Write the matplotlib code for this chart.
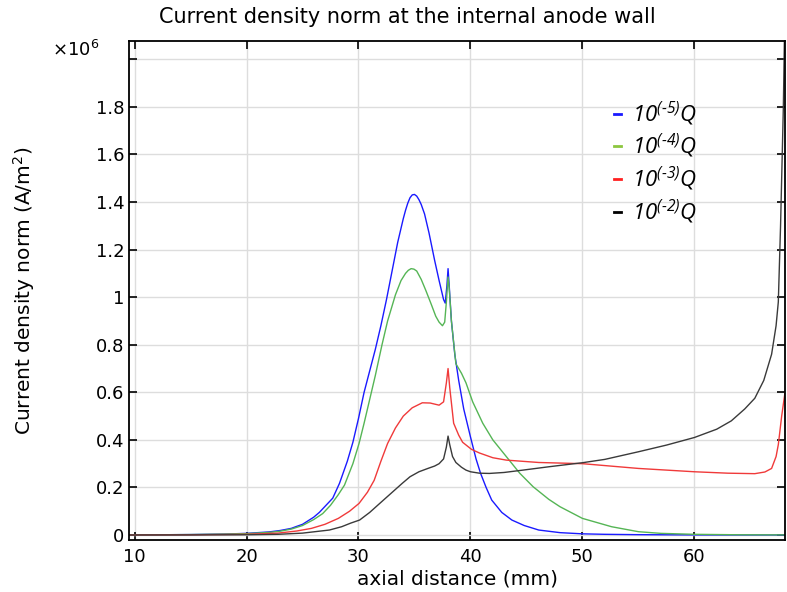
import matplotlib
matplotlib.use("Agg")
import matplotlib.pyplot as plt

# axial distance (mm) and current density norm (x1e6 A/m^2)
x_q5 = [9.5, 12, 15, 18, 20, 22, 23, 24, 24.4, 25, 26, 26.5, 27, 27.7, 28.3, 29.0, 29.5,
        30.0, 30.5, 31.0, 31.5, 32.0, 32.5, 33.0, 33.5, 34.0, 34.2, 34.4, 34.6, 34.8, 35.0,
        35.2, 35.4, 35.6, 35.9, 36.3, 36.8, 37.2, 37.6, 37.75, 37.9, 38.0, 38.1, 38.3, 38.6,
        38.95, 39.4, 40.0, 40.5, 40.9, 41.4, 41.9, 42.8, 43.7, 44.8, 46.1, 48, 50, 52, 55,
        60, 68.2]
y_q5 = [0.0005, 0.001, 0.002, 0.004, 0.007, 0.013, 0.019, 0.028, 0.035, 0.045, 0.075, 0.095,
        0.12, 0.155, 0.217, 0.31, 0.39, 0.49, 0.60, 0.69, 0.78, 0.88, 0.99, 1.11, 1.23, 1.33,
        1.365, 1.395, 1.418, 1.43, 1.432, 1.425, 1.41, 1.39, 1.35, 1.27, 1.155, 1.07, 0.99,
        0.975, 1.05, 1.12, 1.05, 0.90, 0.76, 0.65, 0.53, 0.413, 0.32, 0.26, 0.20, 0.147,
        0.095, 0.063, 0.04, 0.021, 0.01, 0.005, 0.003, 0.0015, 0.0005, 0.0002]

x_q4 = [9.5, 12, 15, 18, 20, 22, 23, 24, 25.0, 26.0, 26.8, 27.5, 28.2, 28.75, 29.5, 30.05,
        30.5, 31.0, 31.5, 32.1, 32.6, 33.3, 33.8, 34.2, 34.45, 34.7, 34.95, 35.2, 35.6, 36.0,
        36.5, 36.9, 37.2, 37.5, 37.7, 37.85, 38.0, 38.1, 38.3, 38.7, 39.2, 39.6, 40.2, 40.8,
        41.1, 42.0, 43.2, 44.4, 45.6, 47.0, 48.0, 50, 52.6, 55, 57, 60, 64, 68.2]
y_q4 = [0.0005, 0.001, 0.002, 0.004, 0.006, 0.011, 0.016, 0.025, 0.04, 0.065, 0.09, 0.125,
        0.17, 0.21, 0.30, 0.385, 0.47, 0.57, 0.67, 0.80, 0.90, 1.01, 1.07, 1.10, 1.113,
        1.12, 1.118, 1.11, 1.075, 1.03, 0.97, 0.92, 0.895, 0.88, 0.895, 0.98, 1.085, 1.04,
        0.90, 0.72, 0.68, 0.64, 0.56, 0.50, 0.47, 0.40, 0.33, 0.26, 0.203, 0.15, 0.119,
        0.07, 0.035, 0.014, 0.007, 0.003, 0.001, 0.0005]

x_q3 = [9.5, 15, 20, 22.8, 24.5, 25.8, 27.0, 28.2, 29.2, 30.05, 30.8, 31.4, 32.0, 32.6, 33.3,
        34.0, 34.8, 35.7, 36.4, 37.2, 37.6, 37.85, 38.0, 38.15, 38.5, 38.95, 39.3, 40.1, 40.8,
        42.0, 43.2, 46.1, 50, 55, 60, 63, 65.4, 66.3, 66.9, 67.3, 67.5, 67.8, 68.1]
y_q3 = [0.0003, 0.001, 0.003, 0.008, 0.017, 0.028, 0.045, 0.07, 0.10, 0.133, 0.18, 0.23,
        0.31, 0.385, 0.45, 0.50, 0.535, 0.556, 0.555, 0.546, 0.56, 0.64, 0.70, 0.62, 0.47,
        0.42, 0.39, 0.36, 0.345, 0.325, 0.315, 0.305, 0.30, 0.28, 0.266, 0.26, 0.258, 0.265,
        0.28, 0.33, 0.38, 0.50, 0.60]

x_q2 = [9.5, 15, 20, 22.8, 25, 27.4, 28.5, 29.3, 30.1, 31.0, 31.9, 32.9, 33.9, 34.6, 35.4,
        36.2, 36.8, 37.2, 37.6, 37.85, 38.0, 38.15, 38.4, 38.7, 39.2, 39.6, 40.0, 40.8, 41.7,
        43.0, 44.7, 47, 50, 52, 55, 57.5, 60, 62, 63.3, 64.5, 65.4, 66.2, 66.9, 67.3, 67.5,
        67.7, 67.85, 67.95, 68.05]
y_q2 = [0.0002, 0.0005, 0.001, 0.003, 0.008, 0.021, 0.035, 0.05, 0.063, 0.095, 0.133, 0.175,
        0.217, 0.245, 0.266, 0.28, 0.29, 0.30, 0.32, 0.37, 0.416, 0.38, 0.33, 0.305, 0.285,
        0.273, 0.266, 0.26, 0.259, 0.263, 0.273, 0.287, 0.304, 0.318, 0.35, 0.378, 0.41,
        0.445, 0.48, 0.53, 0.575, 0.65, 0.76, 0.88, 0.98, 1.30, 1.6, 1.8, 2.1]

labels = [r'$10^{(\text{-}5)}Q$', r'$10^{(\text{-}4)}Q$', r'$10^{(\text{-}3)}Q$', r'$10^{(\text{-}2)}Q$']
line_colors = ['#1a1aff', '#55b555', '#f03a3a', '#3a3a3a']
key_colors = ['#1a1aff', '#8cc63f', '#ff2020', '#000000']

yticks = [0, 0.2, 0.4, 0.6, 0.8, 1.0, 1.2, 1.4, 1.6, 1.8, 2.0]
ytick_labels = ['0', '0.2', '0.4', '0.6', '0.8', '1', '1.2', '1.4', '1.6', '1.8', '']
xticks = [10, 20, 30, 40, 50, 60]

plt.rcParams['mathtext.fontset'] = 'custom'
plt.rcParams['mathtext.it'] = 'Open Sans:italic'
plt.rcParams['mathtext.rm'] = 'Open Sans:italic'

fig = plt.figure(figsize=(7.87, 5.92), dpi=100)
ax = fig.add_axes([0.1639, 0.0878, 0.8336, 0.8429])

series = [(x_q5, y_q5), (x_q4, y_q4), (x_q3, y_q3), (x_q2, y_q2)]
for (xs, ys), c in zip(series, line_colors):
    ax.plot(xs, ys, color=c, lw=1.0)

ax.set_xlim(9.5, 68.1)
ax.set_ylim(-0.021, 2.077)
ax.set_xticks(xticks)
ax.set_yticks(yticks)
ax.set_yticklabels(ytick_labels)
ax.grid(True, color='#dddddd', lw=1.0)
ax.tick_params(direction='in', length=6, width=1.2, top=True, right=True,
               labelsize=13, colors='black')
ax.tick_params(axis='x', pad=6)
for s in ax.spines.values():
    s.set_linewidth(1.3)

ax.set_xlabel('axial distance (mm)', fontsize=14.5, labelpad=2)
ax.set_ylabel('Current density norm (A/m$^\\mathregular{2}$)', fontsize=14.5)
ax.yaxis.set_label_coords(-0.14, 0.5)
fig.text(407 / 787, 1 - 17 / 592, 'Current density norm at the internal anode wall',
         ha='center', va='center', fontsize=15)
fig.text(52 / 787, 1 - 50 / 592, r'$\times$10$^{6}$', ha='left', va='center', fontsize=13,
         math_fontfamily='dejavusans')

# legend keys: short dashes with italic labels
handles = [plt.Line2D([], [], color=c, lw=2) for c in key_colors]
ax.legend(handles, labels, loc='upper left', bbox_to_anchor=(0.709, 0.923), frameon=False,
          handlelength=0.3, handletextpad=0.5, labelspacing=0.2, fontsize=16)

fig.savefig('out.png', dpi=100)
